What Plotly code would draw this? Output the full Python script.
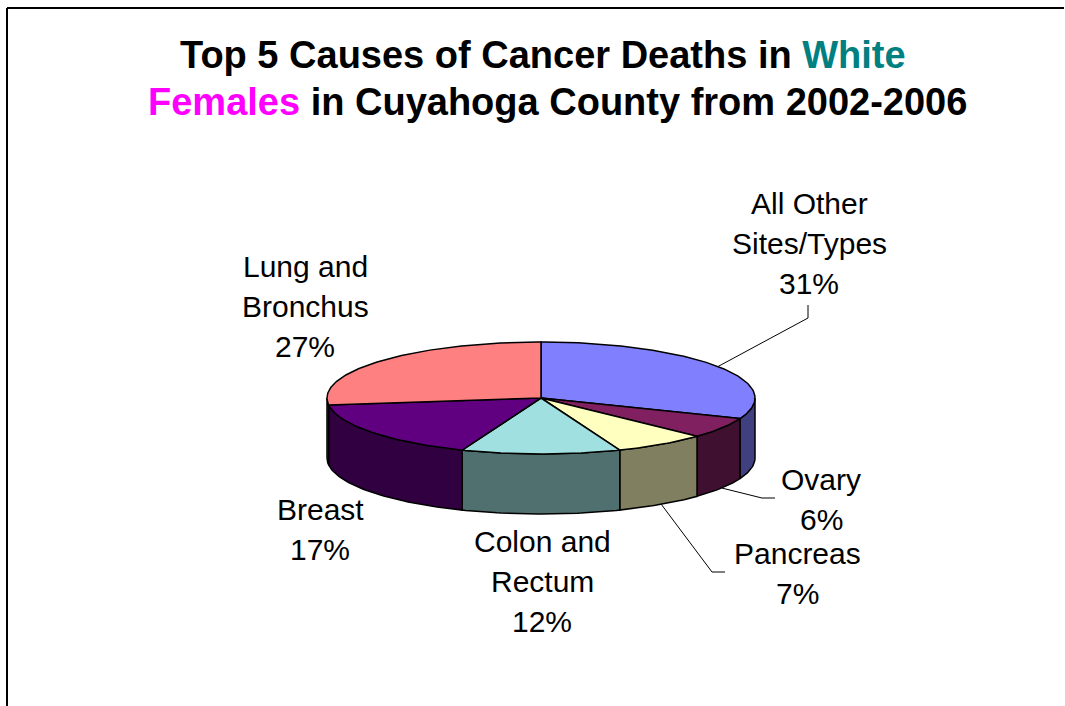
import numpy as np
import plotly.graph_objects as go

# Share of cancer deaths, listed clockwise from 12 o'clock
categories = ["All Other\nSites/Types", "Ovary", "Pancreas", "Colon and\nRectum", "Breast", "Lung and\nBronchus"]
percentages = [31, 6, 7, 12, 17, 27]

top_colors = ["#8080FF", "#802060", "#FFFFC0", "#A0E0E0", "#600080", "#FF8080"]
side_colors = ["#404080", "#401030", "#808060", "#507070", "#300040", "#804040"]

# Label placement: centre x, centre y of first line, optional leader elbow/end
label_pos = [(809, 203), (821, 479), (797, 553), (542, 541), (320, 509), (305, 266)]
leader_tail = [((808, 318), (808, 305)), ((762, 498), (775, 498)), ((712, 572), (725, 572)),
               None, None, None]

W, H = 1065, 706
CX, CY, RX, RY, DEPTH = 541, 398, 214, 56, 60
LINE_GAP = 40
FONT = "Liberation Sans, Arial, sans-serif"


def rim(theta_deg, drop=0.0):
    t = np.radians(theta_deg)
    return CX + RX * np.sin(t), CY - RY * np.cos(t) + drop


def arc(a0, a1, drop=0.0):
    n = max(2, int(abs(a1 - a0)) + 2)
    th = np.linspace(a0, a1, n)
    return rim(th, drop)


fig = go.Figure()

total = sum(percentages)
bounds = np.concatenate([[0], np.cumsum(percentages) / total * 360.0])

# Side walls (only the front half of the disc, 90..270 deg, is visible)
for i in range(len(percentages)):
    a0, a1 = max(bounds[i], 90.0), min(bounds[i + 1], 270.0)
    if a1 <= a0:
        continue
    xt, yt = arc(a0, a1)
    xb, yb = arc(a1, a0, DEPTH)
    xs = np.concatenate([xt, xb, xt[:1]])
    ys = np.concatenate([yt, yb, yt[:1]])
    fig.add_trace(go.Scatter(x=xs, y=ys, mode="lines", fill="toself",
                             fillcolor=side_colors[i], line=dict(color="black", width=1.5),
                             hoverinfo="skip", showlegend=False))

# Top faces of the slices
for i in range(len(percentages)):
    xa, ya = arc(bounds[i], bounds[i + 1])
    xs = np.concatenate([[CX], xa, [CX]])
    ys = np.concatenate([[CY], ya, [CY]])
    fig.add_trace(go.Scatter(x=xs, y=ys, mode="lines", fill="toself",
                             fillcolor=top_colors[i], line=dict(color="black", width=1.5),
                             hoverinfo="skip", showlegend=False))

annotations = []
# Data labels and leader lines
for i, (name, pct) in enumerate(zip(categories, percentages)):
    lines = name.split("\n") + [f"{pct}%"]
    lx, ly = label_pos[i]
    for k, txt in enumerate(lines):
        annotations.append(dict(x=lx, y=ly + k * LINE_GAP, xref="x", yref="y", text=txt,
                                showarrow=False, xanchor="center", yanchor="middle",
                                borderpad=0,
                                font=dict(family=FONT, size=30, color="black")))
    if leader_tail[i] is not None:
        mid = (bounds[i] + bounds[i + 1]) / 2
        drop = DEPTH if 90 < mid < 270 else 0
        sx, sy = rim(mid, drop)
        (ex1, ey1), (ex2, ey2) = leader_tail[i]
        fig.add_trace(go.Scatter(x=[sx, ex1, ex2], y=[sy, ey1, ey2], mode="lines",
                                 line=dict(color="black", width=1), hoverinfo="skip",
                                 showlegend=False))

# Two-line title
annotations.append(dict(x=543, y=55, xref="x", yref="y", showarrow=False,
                        text="<b>Top 5 Causes of Cancer Deaths in <span style='color:#008080'>White</span></b>",
                        font=dict(family=FONT, size=38, color="black"), yanchor="middle"))
annotations.append(dict(x=557, y=102, xref="x", yref="y", showarrow=False,
                        text="<b><span style='color:#FF00FF'>Females</span> in Cuyahoga County from 2002-2006</b>",
                        font=dict(family=FONT, size=38, color="black"), yanchor="middle"))

# Chart-area frame (left and top edges)
shapes = [
    dict(type="line", x0=7, y0=8, x1=7, y1=H, xref="x", yref="y", line=dict(color="black", width=2)),
    dict(type="line", x0=7, y0=8, x1=W - 1, y1=8, xref="x", yref="y", line=dict(color="black", width=2)),
]

fig.update_layout(
    width=W, height=H, margin=dict(l=0, r=0, t=0, b=0),
    paper_bgcolor="white", plot_bgcolor="white",
    xaxis=dict(range=[0, W], visible=False, fixedrange=True),
    yaxis=dict(range=[H, 0], visible=False, fixedrange=True),
    annotations=annotations, shapes=shapes, showlegend=False,
)

fig.write_html("out.html", config={"displayModeBar": False})
